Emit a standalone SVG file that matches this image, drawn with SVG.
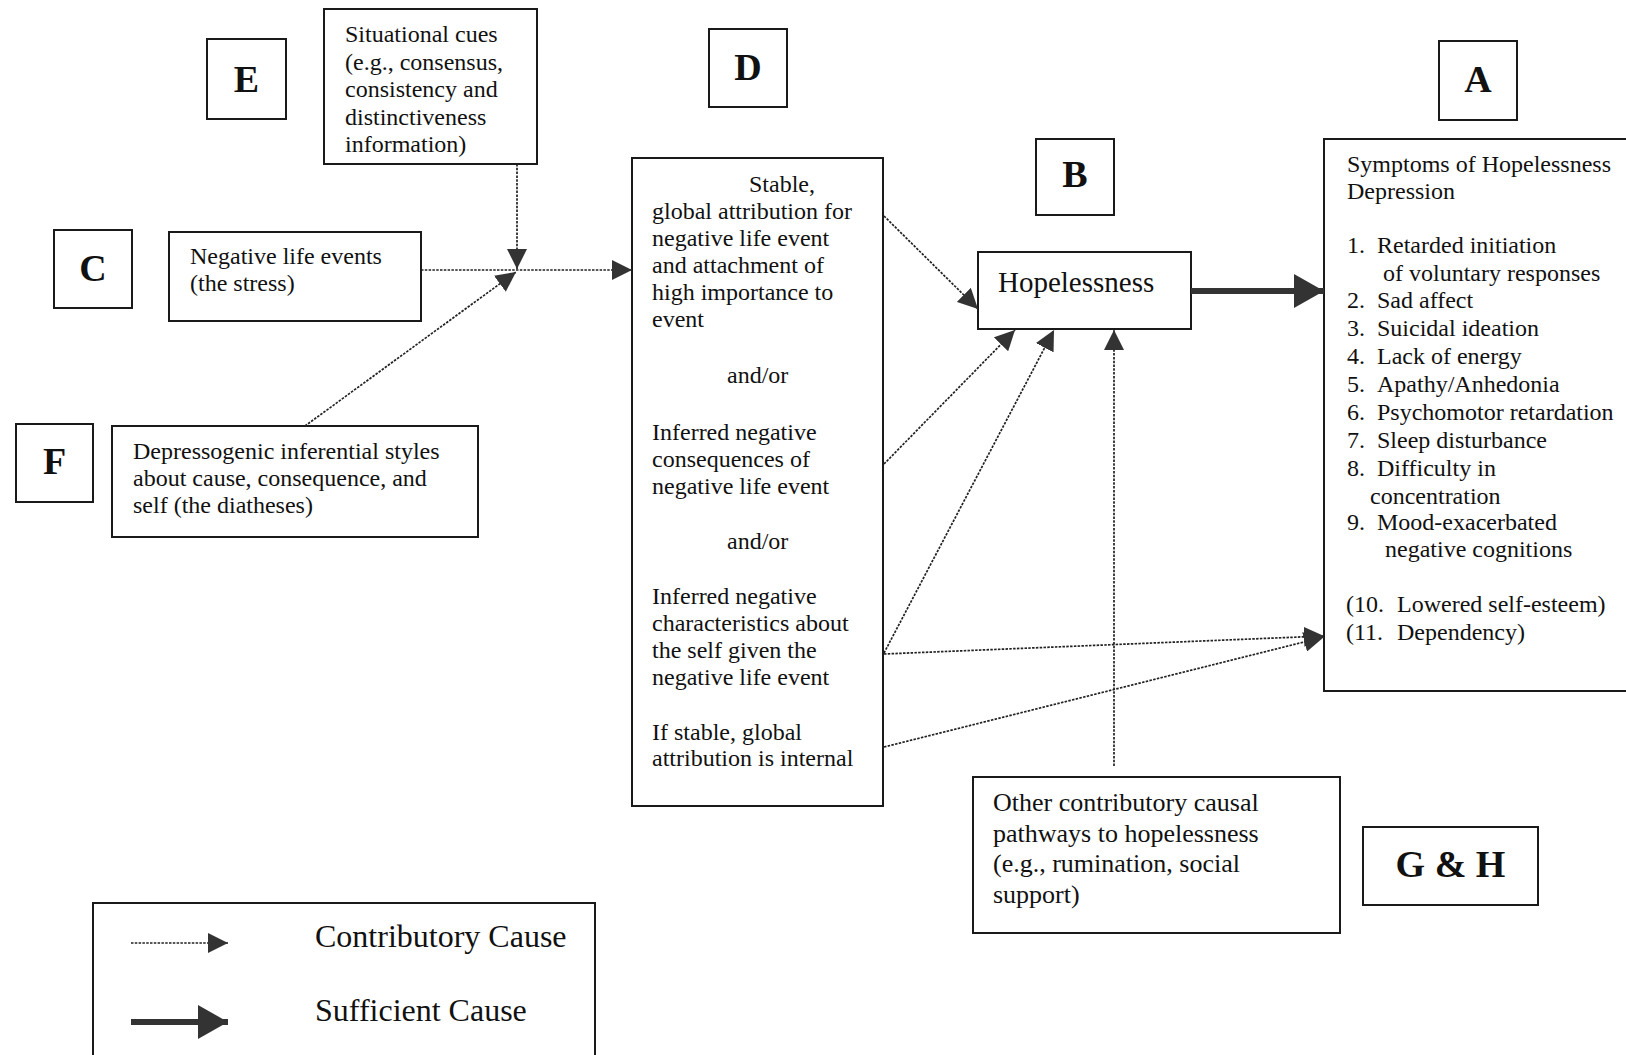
<svg xmlns="http://www.w3.org/2000/svg" width="1626" height="1055" viewBox="0 0 1626 1055">
<style>
  .box { fill: #ffffff; stroke: #1a1a1a; stroke-width: 2; }
  .t { font-family: "Liberation Serif", "Times New Roman", serif; font-size: 24px; fill: #111; }
  .sym { font-family: "Liberation Serif", "Times New Roman", serif; font-size: 24px; fill: #111; }
  .oth { font-family: "Liberation Serif", "Times New Roman", serif; font-size: 26px; fill: #111; }
  .hop { font-family: "Liberation Serif", "Times New Roman", serif; font-size: 29px; fill: #111; }
  .leg { font-family: "Liberation Serif", "Times New Roman", serif; font-size: 32px; fill: #111; }
  .lab { font-family: "Liberation Serif", "Times New Roman", serif; font-size: 38px; font-weight: bold; fill: #111; text-anchor: middle; }
  .dot { fill: none; stroke: #222; stroke-width: 1.7; stroke-dasharray: 2.5 1.3; marker-end: url(#ah); }
  .thick { fill: none; stroke: #333; stroke-width: 6; marker-end: url(#ahb); }
</style>
<defs>
  <marker id="ah" markerUnits="userSpaceOnUse" markerWidth="20" markerHeight="20" refX="20" refY="10" orient="auto">
    <path d="M0,0 L20,10 L0,20 z" fill="#333"/>
  </marker>
  <marker id="ahb" markerUnits="userSpaceOnUse" markerWidth="32" markerHeight="34" refX="30" refY="17" orient="auto">
    <path d="M0,0 L30,17 L0,34 z" fill="#333"/>
  </marker>
</defs>
<rect width="1626" height="1055" fill="#ffffff"/>

<g id="label-E"><rect class="box" x="207" y="39" width="79" height="80"/><text class="lab" x="246.5" y="92">E</text></g>
<g id="label-D"><rect class="box" x="709" y="29" width="78" height="78"/><text class="lab" x="748" y="80">D</text></g>
<g id="label-A"><rect class="box" x="1439" y="41" width="78" height="79"/><text class="lab" x="1478" y="92">A</text></g>
<g id="label-B"><rect class="box" x="1036" y="139" width="78" height="76"/><text class="lab" x="1075" y="187">B</text></g>
<g id="label-C"><rect class="box" x="54" y="230" width="78" height="78"/><text class="lab" x="93" y="281">C</text></g>
<g id="label-F"><rect class="box" x="16" y="424" width="77" height="78"/><text class="lab" x="54.5" y="474">F</text></g>
<g id="label-GH"><rect class="box" x="1363" y="827" width="175" height="78"/><text class="lab" x="1450.5" y="877">G &amp; H</text></g>

<g id="situational-cues">
  <rect class="box" x="324" y="9" width="213" height="155"/>
  <text class="t"><tspan x="345" y="42">Situational cues</tspan><tspan x="345" y="70">(e.g., consensus,</tspan><tspan x="345" y="97">consistency and</tspan><tspan x="345" y="125">distinctiveness</tspan><tspan x="345" y="152">information)</tspan></text>
</g>

<g id="negative-life-events">
  <rect class="box" x="169" y="232" width="252" height="89"/>
  <text class="t"><tspan x="190" y="264">Negative life events</tspan><tspan x="190" y="291">(the stress)</tspan></text>
</g>

<g id="diatheses">
  <rect class="box" x="112" y="426" width="366" height="111"/>
  <text class="t"><tspan x="133" y="459">Depressogenic inferential styles</tspan><tspan x="133" y="486">about cause, consequence, and</tspan><tspan x="133" y="513">self (the diatheses)</tspan></text>
</g>

<g id="attributions">
  <rect class="box" x="632" y="158" width="251" height="648"/>
  <text class="t">
    <tspan x="749" y="192">Stable,</tspan>
    <tspan x="652" y="219">global attribution for</tspan>
    <tspan x="652" y="246">negative life event</tspan>
    <tspan x="652" y="273">and attachment of</tspan>
    <tspan x="652" y="300">high importance to</tspan>
    <tspan x="652" y="327">event</tspan>
    <tspan x="727" y="383">and/or</tspan>
    <tspan x="652" y="440">Inferred negative</tspan>
    <tspan x="652" y="467">consequences of</tspan>
    <tspan x="652" y="494">negative life event</tspan>
    <tspan x="727" y="549">and/or</tspan>
    <tspan x="652" y="604">Inferred negative</tspan>
    <tspan x="652" y="631">characteristics about</tspan>
    <tspan x="652" y="658">the self given the</tspan>
    <tspan x="652" y="685">negative life event</tspan>
    <tspan x="652" y="740">If stable, global</tspan>
    <tspan x="652" y="766">attribution is internal</tspan>
  </text>
</g>

<g id="hopelessness">
  <rect class="box" x="978" y="252" width="213" height="77"/>
  <text class="hop" x="998" y="292">Hopelessness</text>
</g>

<g id="symptoms">
  <rect class="box" x="1324" y="139" width="320" height="552"/>
  <text class="sym">
    <tspan x="1347" y="172">Symptoms of Hopelessness</tspan>
    <tspan x="1347" y="199">Depression</tspan>
    <tspan x="1347" y="253">1.</tspan><tspan x="1377" y="253">Retarded initiation</tspan>
    <tspan x="1383" y="281">of  voluntary responses</tspan>
    <tspan x="1347" y="308">2.</tspan><tspan x="1377" y="308">Sad affect</tspan>
    <tspan x="1347" y="336">3.</tspan><tspan x="1377" y="336">Suicidal ideation</tspan>
    <tspan x="1347" y="364">4.</tspan><tspan x="1377" y="364">Lack of energy</tspan>
    <tspan x="1347" y="392">5.</tspan><tspan x="1377" y="392">Apathy/Anhedonia</tspan>
    <tspan x="1347" y="420">6.</tspan><tspan x="1377" y="420">Psychomotor retardation</tspan>
    <tspan x="1347" y="448">7.</tspan><tspan x="1377" y="448">Sleep disturbance</tspan>
    <tspan x="1347" y="476">8.</tspan><tspan x="1377" y="476">Difficulty in</tspan>
    <tspan x="1370" y="504">concentration</tspan>
    <tspan x="1347" y="530">9.</tspan><tspan x="1377" y="530">Mood-exacerbated</tspan>
    <tspan x="1385" y="557">negative cognitions</tspan>
    <tspan x="1346" y="612">(10.</tspan><tspan x="1397" y="612">Lowered self-esteem)</tspan>
    <tspan x="1346" y="640">(11.</tspan><tspan x="1397" y="640">Dependency)</tspan>
  </text>
</g>

<g id="other-pathways">
  <rect class="box" x="973" y="777" width="367" height="156"/>
  <text class="oth"><tspan x="993" y="811">Other contributory causal</tspan><tspan x="993" y="842">pathways to hopelessness</tspan><tspan x="993" y="872">(e.g., rumination, social</tspan><tspan x="993" y="903">support)</tspan></text>
</g>

<g id="legend">
  <rect class="box" x="93" y="903" width="502" height="200"/>
  <line class="dot" x1="131" y1="943" x2="228" y2="943"/>
  <line class="thick" x1="131" y1="1022" x2="228" y2="1022"/>
  <text class="leg" x="315" y="947">Contributory Cause</text>
  <text class="leg" x="315" y="1021">Sufficient Cause</text>
</g>

<g id="connectors">
  <line class="dot" x1="517" y1="164" x2="517" y2="269"/>
  <line class="dot" x1="421" y1="270" x2="632" y2="270"/>
  <line class="dot" x1="305" y1="426" x2="516" y2="272"/>
  <line class="dot" x1="884" y1="216" x2="978" y2="309"/>
  <line class="dot" x1="884" y1="464" x2="1015" y2="330"/>
  <line class="dot" x1="884" y1="653" x2="1054" y2="330"/>
  <line class="dot" x1="1114" y1="766" x2="1114" y2="330"/>
  <line class="dot" x1="884" y1="654" x2="1324" y2="636"/>
  <line class="dot" x1="884" y1="747" x2="1324" y2="637"/>
  <line class="thick" x1="1191" y1="291" x2="1324" y2="291"/>
</g>
</svg>
